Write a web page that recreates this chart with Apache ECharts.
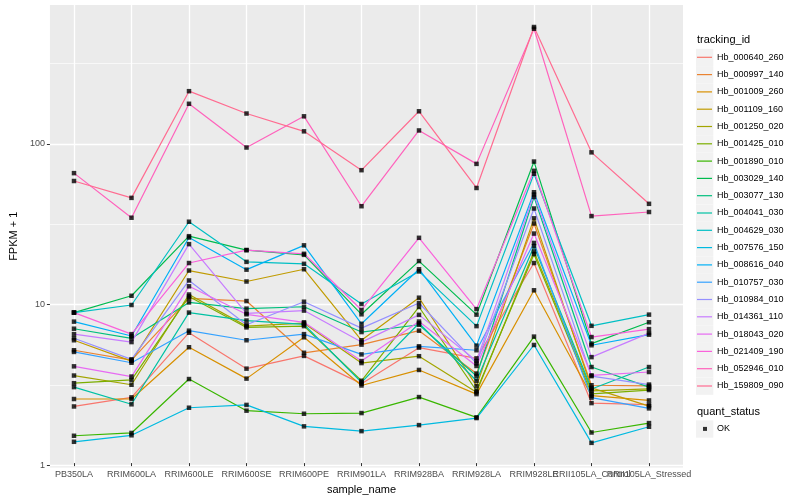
<!DOCTYPE html>
<html>
<head>
<meta charset="utf-8">
<script src="https://cdn.jsdelivr.net/npm/echarts@6/dist/echarts.min.js"></script>
<style>html,body{margin:0;padding:0;background:#fff;}#c{width:800px;height:500px;}</style>
</head>
<body>
<div id="c"></div>
<script>
const categories = ['PB350LA','RRIM600LA','RRIM600LE','RRIM600SE','RRIM600PE','RRIM901LA','RRIM928BA','RRIM928LA','RRIM928LE','RRII105LA_Control','RRII105LA_Stressed'];

const seriesNames = ['Hb_000640_260','Hb_000997_140','Hb_001009_260','Hb_001109_160','Hb_001250_020','Hb_001425_010','Hb_001890_010','Hb_003029_140','Hb_003077_130','Hb_004041_030','Hb_004629_030','Hb_007576_150','Hb_008616_040','Hb_010757_030','Hb_010984_010','Hb_014361_110','Hb_018043_020','Hb_021409_190','Hb_052946_010','Hb_159809_090'];

const palette = ['#F8766D','#EA8331','#D89000','#C09B00','#A3A500','#7CAE00','#39B600','#00BB4E','#00BF7D','#00C1A3','#00BFC4','#00BAE0','#00B0F6','#35A2FF','#9590FF','#C77CFF','#E76BF3','#FA62DB','#FF62BC','#FF6C91'];

// FPKM + 1 values, one array per tracking_id (order of categories)
const hb_000640_260 = [2.2, 2.51, 6.39, 3.8, 4.57, 3.06, 5.15, 4.41, 17.5, 2.31, 2.26];
const hb_000997_140 = [4.96, 4.3, 10.5, 10.1, 4.78, 5.38, 6.58, 3.54, 31.0, 2.99, 2.96];
const hb_001009_260 = [2.45, 2.45, 5.18, 3.29, 5.98, 2.98, 3.73, 2.63, 11.8, 2.57, 2.40];
const hb_001109_160 = [5.73, 4.24, 15.7, 13.4, 16.0, 5.73, 10.6, 2.96, 33.4, 2.88, 2.21];
const hb_001250_020 = [3.44, 3.01, 11.1, 7.03, 7.33, 4.12, 4.55, 2.70, 20.7, 2.76, 2.84];
const hb_001425_010 = [3.08, 3.23, 10.8, 6.9, 7.03, 3.19, 9.27, 2.76, 19.9, 2.64, 2.79];
const hb_001890_010 = [1.44, 1.50, 3.27, 2.07, 1.98, 2.0, 2.52, 1.88, 6.04, 1.51, 1.73];
const hb_003029_140 = [8.55, 10.9, 25.8, 21.1, 19.7, 8.34, 18.0, 8.3, 75.9, 5.46, 7.43];
const hb_003077_130 = [6.77, 5.89, 9.9, 9.05, 9.3, 6.45, 7.17, 3.42, 45.5, 3.89, 2.91];
const hb_004041_030 = [2.91, 2.27, 8.55, 7.62, 7.2, 3.12, 7.33, 3.19, 22.3, 2.83, 3.89];
const hb_004629_030 = [8.55, 9.54, 31.8, 17.8, 17.3, 9.68, 15.5, 7.03, 63.6, 7.06, 8.3];
const hb_007576_150 = [1.32, 1.45, 2.16, 2.25, 1.65, 1.54, 1.68, 1.86, 5.35, 1.30, 1.64];
const hb_008616_040 = [7.5, 6.09, 25.3, 15.9, 22.6, 7.27, 16.0, 5.3, 48.7, 5.33, 6.21];
const hb_010757_030 = [4.84, 4.14, 6.58, 5.73, 6.26, 4.67, 5.25, 4.96, 23.4, 2.50, 2.14];
const hb_010984_010 = [5.9, 4.35, 13.6, 7.17, 10.0, 6.83, 9.82, 4.1, 38.5, 3.41, 3.02];
const hb_014361_110 = [6.26, 5.58, 23.0, 8.46, 8.8, 5.58, 8.27, 4.24, 47.1, 4.49, 6.35];
const hb_018043_020 = [3.93, 3.39, 12.5, 8.34, 7.43, 4.24, 7.51, 3.95, 26.8, 3.45, 3.62];
const hb_021409_190 = [8.55, 6.26, 17.5, 21.1, 20.0, 8.88, 25.2, 8.99, 66.4, 6.0, 6.73];
const hb_052946_010 = [64.2, 33.7, 175, 93, 146, 39.8, 119, 73.4, 518, 34.5, 36.6];
const hb_159809_090 = [57.3, 44.9, 210, 152, 117.5, 67, 157, 51.8, 531, 86.7, 41.2];

const seriesValues = [hb_000640_260, hb_000997_140, hb_001009_260, hb_001109_160, hb_001250_020, hb_001425_010, hb_001890_010, hb_003029_140, hb_003077_130, hb_004041_030, hb_004629_030, hb_007576_150, hb_008616_040, hb_010757_030, hb_010984_010, hb_014361_110, hb_018043_020, hb_021409_190, hb_052946_010, hb_159809_090];

const yTicks = [1, 10, 100];
const minorBreaks = [Math.sqrt(10), Math.sqrt(10) * 10, Math.sqrt(10) * 100];
const yMin = 0.97, yMax = 730;

const FONT = 'Liberation Sans';
const lineIcon = 'path://M0,0 M0,7.9 L15,7.9 L15,9.1 L0,9.1 Z M15,17';
const dotIcon = 'path://M0,0 M6,6.5 L10,6.5 L10,10.5 L6,10.5 Z M15,17';

const lineSeries = seriesNames.map((n, i) => ({
  type: 'line', name: n, xAxisIndex: 1, yAxisIndex: 2,
  data: seriesValues[i], symbol: 'none', showSymbol: false,
  lineStyle: { color: palette[i], width: 1.2 },
  itemStyle: { color: palette[i] },
  emphasis: { disabled: true }, silent: true, z: 3
}));

const points = [];
seriesValues.forEach(vals => vals.forEach((v, j) => points.push([j, v])));

const legendTop = 48.8, legendStep = 17.3;
const keyBoxes = seriesNames.map((n, i) => ({
  type: 'rect', shape: { x: 696, y: legendTop + i * legendStep, width: 17.3, height: 17.3 },
  style: { fill: '#F2F2F2' }, silent: true
}));

const option = {
  animation: false,
  textStyle: { fontFamily: FONT },
  grid: [
    { left: 40, top: 5, width: 643, height: 462.5, show: true, backgroundColor: '#EBEBEB', borderWidth: 0 },
    { left: 74, top: 5, width: 575, height: 462.5, show: false }
  ],
  xAxis: [
    { gridIndex: 0, type: 'value', min: 0, max: 1, show: false },
    { gridIndex: 1, type: 'category', data: categories, boundaryGap: false,
      axisLine: { show: false },
      axisTick: { show: true, length: 3, lineStyle: { color: '#333333', width: 1 } },
      axisLabel: { interval: 0, color: '#4D4D4D', fontSize: 9, margin: 7, fontFamily: FONT, hideOverlap: false },
      splitLine: { show: true, lineStyle: { color: '#FFFFFF', width: 1.3 } },
      name: 'sample_name', nameLocation: 'middle', nameGap: 15,
      nameTextStyle: { color: '#000000', fontSize: 11, fontFamily: FONT } }
  ],
  yAxis: [
    { gridIndex: 0, type: 'log', position: 'left', offset: 0, min: yMin, max: yMax,
      axisLine: { show: false },
      axisTick: { show: false, customValues: minorBreaks },
      axisLabel: { show: false, customValues: minorBreaks },
      splitLine: { show: true, lineStyle: { color: '#FFFFFF', width: 0.65 } } },
    { gridIndex: 0, type: 'log', position: 'left', offset: 0, min: yMin, max: yMax,
      axisLine: { show: false },
      axisTick: { show: true, length: 3, lineStyle: { color: '#333333', width: 1 }, customValues: yTicks },
      axisLabel: { color: '#4D4D4D', fontSize: 9, margin: 5, fontFamily: FONT, customValues: yTicks },
      splitLine: { show: true, lineStyle: { color: '#FFFFFF', width: 1.3 } },
      name: 'FPKM + 1', nameLocation: 'middle', nameGap: 22,
      nameTextStyle: { color: '#000000', fontSize: 11, fontFamily: FONT } },
    { gridIndex: 1, type: 'log', position: 'left', min: yMin, max: yMax, show: false, splitLine: { show: false } }
  ],
  legend: [
    { orient: 'vertical', left: 697, top: legendTop, padding: 0,
      itemWidth: 15, itemHeight: 17, itemGap: legendStep - 17, icon: lineIcon,
      selectedMode: false,
      textStyle: { fontSize: 9, color: '#000000', fontFamily: FONT },
      data: seriesNames.map((n, i) => ({ name: n, itemStyle: { color: palette[i], borderWidth: 0 } })) },
    { orient: 'vertical', left: 697, top: 420.4, padding: 0,
      itemWidth: 15, itemHeight: 17, icon: dotIcon, selectedMode: false,
      textStyle: { fontSize: 9, color: '#000000', fontFamily: FONT },
      data: [{ name: 'OK', itemStyle: { color: '#000000', borderWidth: 0 } }] }
  ],
  graphic: [
    ...keyBoxes,
    { type: 'rect', shape: { x: 696, y: 420.4, width: 17.3, height: 17.3 }, style: { fill: '#F2F2F2' }, silent: true },
    { type: 'text', left: 697, top: 34, style: { text: 'tracking_id', fontSize: 11, fill: '#000000', fontFamily: FONT }, silent: true },
    { type: 'text', left: 697, top: 406.5, style: { text: 'quant_status', fontSize: 11, fill: '#000000', fontFamily: FONT }, silent: true }
  ],
  series: [
    ...lineSeries,
    { type: 'scatter', name: 'OK', xAxisIndex: 1, yAxisIndex: 2, data: points,
      symbol: 'rect', symbolSize: 4.5, itemStyle: { color: '#000000' }, silent: true, z: 4 }
  ]
};

const chart = echarts.init(document.getElementById('c'), null, { renderer: 'canvas' });
chart.setOption(option);
</script>
</body>
</html>
